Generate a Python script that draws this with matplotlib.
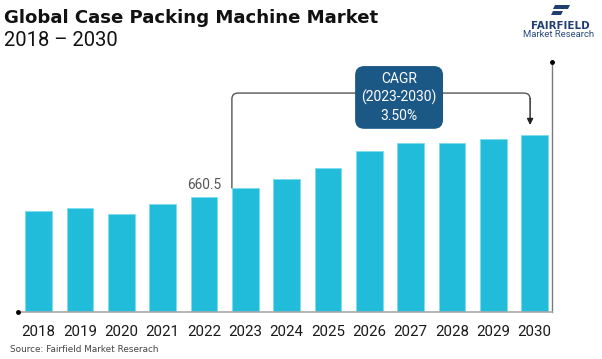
import numpy as np
import matplotlib.pyplot as plt
from matplotlib.path import Path
from matplotlib.patches import PathPatch, Polygon

# データ
years = ['2018', '2019', '2020', '2021', '2022', '2023', '2024',
         '2025', '2026', '2027', '2028', '2029', '2030']
values = [580, 597, 561, 620, 660.5, 708, 760, 827, 922, 970, 970, 993, 1014]
label_idx = 4          # 660.5 のラベル
cagr_from, cagr_to = 5, 12
cagr_text = 'CAGR\n(2023-2030)\n3.50%'

title = 'Global Case Packing Machine Market'
subtitle = '2018 \u2013 2030'
source = 'Source: Fairfield Market Reserach'

bar_color = '#21BCD9'
box_color = '#1B5886'
line_color = '#555555'

plt.rcParams['font.family'] = ['Roboto', 'DejaVu Sans']

fig = plt.figure(figsize=(6.02, 3.59), dpi=100)
ax = fig.add_axes([18 / 602, 47 / 359, 534 / 602, 250 / 359])

x = np.arange(len(years))
w = 0.65
ax.bar(x, values, width=w, color=bar_color, edgecolor='#7FDDEE', linewidth=0.6, zorder=2)

ymax = 1432
ax.set_xlim(-0.5, 12.42)
ax.set_ylim(0, ymax)

# 軸
for s in ['left', 'top']:
    ax.spines[s].set_visible(False)
ax.spines['bottom'].set_color('#A8A8A8')
ax.spines['right'].set_color('#7A7A7A')
ax.spines['bottom'].set_linewidth(1.2)
ax.spines['right'].set_linewidth(1.0)
ax.set_yticks([])
ax.set_xticks(x)
ax.set_xticklabels(years, fontsize=10.8, color='#1A1A1A')
ax.tick_params(axis='x', length=0, pad=9)
ax.plot([-0.5], [0], 'o', color='black', ms=2.5, clip_on=False, zorder=5)
ax.plot([12.42], [ymax], 'o', color='black', ms=2.5, clip_on=False, zorder=5)

# 値ラベル
ax.text(x[label_idx], values[label_idx] + 25, f'{values[label_idx]}', ha='center', va='bottom',
        fontsize=9.8, color='#555555')

# CAGR ブラケット
xl = x[cagr_from] - w / 2
xr = x[cagr_to] - 0.11
yl = 1254
rx, ry = 0.15, 34
tip = values[cagr_to] + 57
verts = [(xl, values[cagr_from]), (xl, yl - ry), (xl, yl), (xl + rx, yl),
         (xr - rx, yl), (xr, yl), (xr, yl - ry)]
codes = [Path.MOVETO, Path.LINETO, Path.CURVE3, Path.CURVE3,
         Path.LINETO, Path.CURVE3, Path.CURVE3]
ax.add_patch(PathPatch(Path(verts, codes), fill=False, edgecolor=line_color, lw=1.0,
                       clip_on=False, zorder=3))
ax.annotate('', xy=(xr, tip), xytext=(xr, yl - ry + 2),
            arrowprops=dict(arrowstyle='-|>', color='#222222', lw=1.0,
                            mutation_scale=9, shrinkA=0, shrinkB=0), zorder=3)
ax.text(8.72, 1229, cagr_text, ha='center', va='center', color='white',
        fontsize=10, linespacing=1.3, zorder=4,
        bbox=dict(boxstyle='round,pad=0.4,rounding_size=0.6', fc=box_color, ec=box_color))

# タイトル
fig.text(4 / 602, 1 - 23 / 359, title, fontsize=13.1, fontweight='bold', color='#111111',
         ha='left', va='baseline', family='DejaVu Sans')
fig.text(4 / 602, 1 - 45.5 / 359, subtitle, fontsize=14.5, color='#111111',
         ha='left', va='baseline')
fig.text(10 / 602, 1 - 349 / 359, source, fontsize=6.4, color='#444444',
         ha='left', va='center', family='DejaVu Sans')

# ロゴ
fig.text(560.5 / 602, 1 - 26 / 359, 'FAIRFIELD', fontsize=7.4, fontweight='bold',
         color='#1F3F70', ha='center', va='center', family='DejaVu Sans')
fig.text(559 / 602, 1 - 34.5 / 359, 'Market Research', fontsize=6.8,
         color='#2A4C7E', ha='center', va='center')
for pts in ([(555, 5), (570, 5), (568, 9), (553, 9)],
            [(553, 11), (563, 11), (561, 15), (551, 15)]):
    fig.patches.append(Polygon([(px / 602, 1 - py / 359) for px, py in pts], closed=True,
                               transform=fig.transFigure, fc='#1F3F70', ec='none'))

fig.savefig('out.png', dpi=100)
